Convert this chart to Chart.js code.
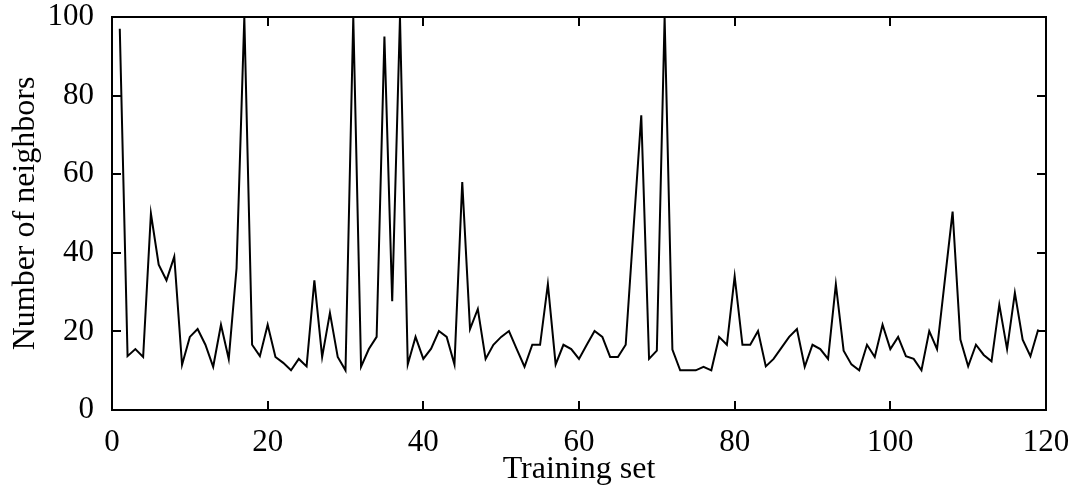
<!DOCTYPE html>
<html>
<head>
<meta charset="utf-8">
<title>Number of neighbors per training set</title>
<script src="https://cdn.jsdelivr.net/npm/chart.js@4.4.1/dist/chart.umd.min.js"></script>
<style>
    html, body { margin: 0; padding: 0; background: #fff; }
    #wrap { width: 1080px; height: 495px; }
</style>
</head>
<body>
<div id="wrap"><canvas id="neighbors-chart" width="1080" height="495"></canvas></div>
<script>
// Neighbour count for each training set (sets 1..119).
var neighbors = [
    97, 13.7, 15.5, 13.5, 50, 37, 33, 39, 11.5, 18.6,
    20.6, 16.6, 11, 21.7, 13, 36, 100, 16.6, 13.7, 21.7,
    13.5, 12, 10.1, 13, 11.1, 33, 13.5, 24.7, 13.5, 10.1,
    100, 11, 15.5, 18.6, 95, 27.7, 100, 11.6, 18.6, 13,
    15.6, 20.1, 18.6, 11.6, 58, 20.6, 25.7, 13, 16.6, 18.6,
    20.1, 15.5, 11, 16.6, 16.6, 32, 11.6, 16.6, 15.5, 13,
    16.6, 20.1, 18.6, 13.5, 13.5, 16.6, 46, 75, 13, 15.1,
    100, 15.4, 10.1, 10.1, 10.1, 11, 10.1, 18.6, 16.6, 34,
    16.6, 16.6, 20.1, 11.1, 13, 15.8, 18.6, 20.6, 11, 16.6,
    15.5, 13, 32, 15.1, 11.6, 10.1, 16.6, 13.5, 21.7, 15.5,
    18.6, 13.7, 13, 10.1, 20.1, 15.5, 33, 50.5, 17.9, 11.1,
    16.6, 14, 12.4, 26.8, 15.5, 29.8, 17.9, 13.7, 20.5
];

var xTicks = [0, 20, 40, 60, 80, 100, 120];
var yTicks = [0, 20, 40, 60, 80, 100];

var serif = '"Liberation Serif", "Times New Roman", serif';

// Box around the plot with inward ticks on all four sides.
var boxTicks = {
    id: 'boxTicks',
    afterDatasetsDraw: function (chart) {
        var ctx = chart.ctx;
        var a = chart.chartArea;
        var xs = chart.scales.x;
        var ys = chart.scales.y;
        var len = 9;
        ctx.save();
        ctx.strokeStyle = '#000';
        ctx.lineWidth = 2;
        ctx.beginPath();
        xTicks.forEach(function (v) {
            var px = Math.round(xs.getPixelForValue(v));
            ctx.moveTo(px, a.bottom);
            ctx.lineTo(px, a.bottom - len);
            ctx.moveTo(px, a.top);
            ctx.lineTo(px, a.top + len);
        });
        yTicks.forEach(function (v) {
            var py = Math.round(ys.getPixelForValue(v));
            ctx.moveTo(a.left, py);
            ctx.lineTo(a.left + len, py);
            ctx.moveTo(a.right, py);
            ctx.lineTo(a.right - len, py);
        });
        ctx.stroke();
        ctx.strokeRect(a.left, a.top, a.right - a.left, a.bottom - a.top);
        ctx.restore();
    }
};

var points = neighbors.map(function (v, i) {
    return { x: i + 1, y: v };
});

new Chart(document.getElementById('neighbors-chart'), {
    type: 'line',
    data: {
        datasets: [{
            data: points,
            borderColor: '#000',
            borderWidth: 2,
            pointRadius: 0,
            tension: 0,
            fill: false
        }]
    },
    options: {
        responsive: false,
        animation: false,
        devicePixelRatio: 1,
        layout: { padding: { top: 17, right: 34, left: 0, bottom: 0 } },
        plugins: {
            legend: { display: false },
            tooltip: { enabled: false }
        },
        scales: {
            x: {
                type: 'linear',
                min: 0,
                max: 120,
                afterBuildTicks: function (s) {
                    s.ticks = xTicks.map(function (v) { return { value: v }; });
                },
                afterFit: function (s) {
                    s.height = 85;
                    s.paddingLeft = 0;
                    s.paddingRight = 0;
                },
                grid: { display: false },
                border: { display: false },
                ticks: {
                    color: '#000',
                    padding: 6,
                    maxRotation: 0,
                    font: { family: serif, size: 31 }
                },
                title: {
                    display: true,
                    text: 'Training set',
                    color: '#000',
                    padding: { top: 0, bottom: 6 },
                    font: { family: serif, size: 32 }
                }
            },
            y: {
                min: 0,
                max: 100,
                afterBuildTicks: function (s) {
                    s.ticks = yTicks.map(function (v) { return { value: v }; });
                },
                afterFit: function (s) {
                    s.width = 112;
                    s.paddingTop = 0;
                    s.paddingBottom = 0;
                },
                grid: { display: false },
                border: { display: false },
                ticks: {
                    color: '#000',
                    padding: 10,
                    font: { family: serif, size: 31 }
                },
                title: {
                    display: true,
                    text: 'Number of neighbors',
                    color: '#000',
                    padding: { top: 6, bottom: 0 },
                    font: { family: serif, size: 32 }
                }
            }
        }
    },
    plugins: [boxTicks]
});
</script>
</body>
</html>
